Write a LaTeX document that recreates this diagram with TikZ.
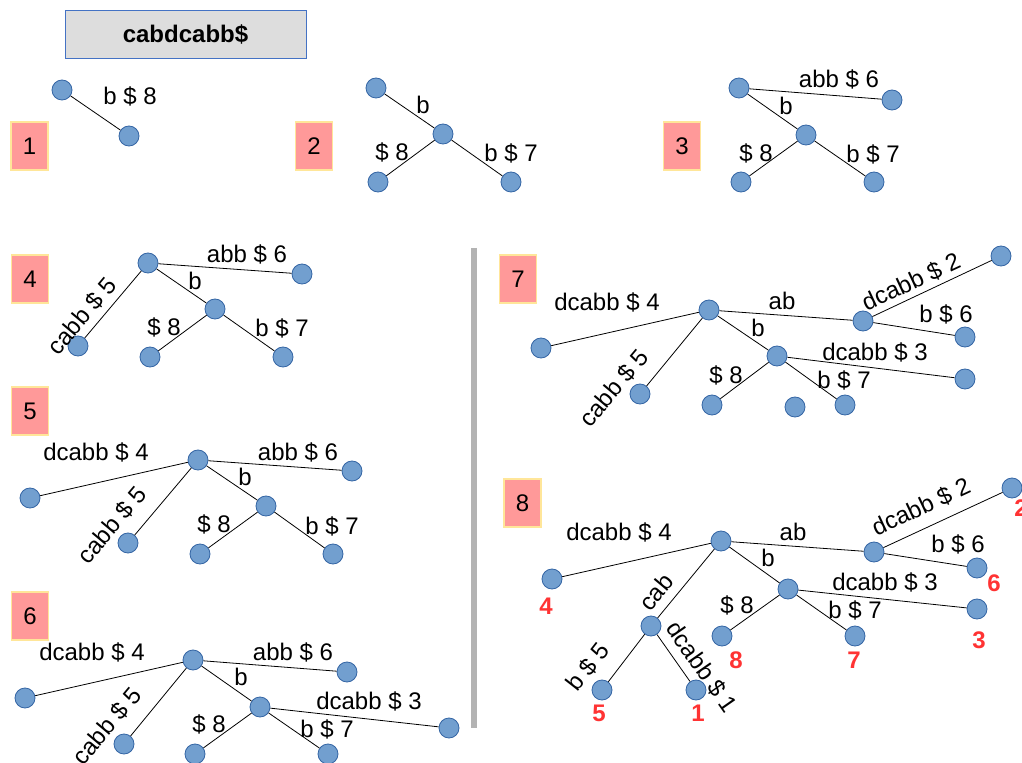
\documentclass[tikz,border=0pt]{standalone}
\usepackage{fontspec}
\setmainfont{Liberation Sans}
\definecolor{nodefill}{HTML}{729FCF}
\definecolor{nodeline}{HTML}{3465A4}
\definecolor{boxfill}{HTML}{FF9999}
\definecolor{boxline}{HTML}{FFE699}
\definecolor{titlefill}{HTML}{DDDDDD}
\definecolor{titleline}{HTML}{4472C4}
\definecolor{divgray}{HTML}{B3B3B3}
\definecolor{numred}{HTML}{FF3333}
\begin{document}
\begin{tikzpicture}[x=0.75pt,y=-0.75pt,
 v/.style={circle,draw=nodeline,fill=nodefill,minimum size=15pt,inner sep=0pt,line width=0.6pt},
 lbl/.style={inner sep=0pt,font=\fontsize{18}{21}\selectfont},
 pbox/.style={draw=boxline,fill=boxfill,minimum width=27.75pt,minimum height=36pt,inner sep=0pt,font=\fontsize{18}{21}\selectfont,line width=0.8pt},
 num/.style={inner sep=0pt,text=numred,font=\fontsize{18}{21}\selectfont\bfseries},
 conn/.style={draw=black,line width=0.6pt}
]
\useasboundingbox (0,0) rectangle (1022,763);

% title
\node[draw=titleline,fill=titlefill,line width=0.6pt,minimum width=180.75pt,minimum height=36pt,inner sep=0pt,font=\fontsize{18}{21}\selectfont\bfseries] (title) at (185.5,34) {cabdcabb\$};

% divider
\coordinate (dtop) at (474,248);
\coordinate (dbot) at (474,728);
\draw[divgray,line width=4pt] (dtop) -- (dbot);

% panel labels
\node[pbox] (b1) at (29.5,146) {1};
\node[pbox] (b2) at (314,146) {2};
\node[pbox] (b3) at (682,146) {3};
\node[pbox] (b4) at (30,279) {4};
\node[pbox] (b5) at (30,411) {5};
\node[pbox] (b6) at (30,616) {6};
\node[pbox] (b7) at (518,279) {7};
\node[pbox] (b8) at (522.5,503) {8};

% ---- panel 1
\node[v] (p1r) at (62,90) {};
\node[v] (p1a) at (129,136) {};
\draw[conn] (p1r) -- (p1a);
\node[lbl] (p1l1) at (130,96) {b \$ 8};

% ---- panel 2
\node[v] (p2r) at (376,88) {};
\node[v] (p2m) at (443,134) {};
\node[v] (p2l) at (378,182) {};
\node[v] (p2rt) at (511,182) {};
\draw[conn] (p2r) -- (p2m);
\draw[conn] (p2m) -- (p2l);
\draw[conn] (p2m) -- (p2rt);
\node[lbl] (p2t1) at (423,105) {b};
\node[lbl] (p2t2) at (392,152) {\$ 8};
\node[lbl] (p2t3) at (511,153) {b \$ 7};

% ---- panel 3
\node[v] (p3r) at (739,88) {};
\node[v] (p3a) at (892,100) {};
\node[v] (p3m) at (806,135) {};
\node[v] (p3l) at (741,182) {};
\node[v] (p3rt) at (874,182) {};
\draw[conn] (p3r) -- (p3a);
\draw[conn] (p3r) -- (p3m);
\draw[conn] (p3m) -- (p3l);
\draw[conn] (p3m) -- (p3rt);
\node[lbl] (p3t1) at (839,79) {abb \$ 6};
\node[lbl] (p3t2) at (786,106) {b};
\node[lbl] (p3t3) at (756,153) {\$ 8};
\node[lbl] (p3t4) at (873,154) {b \$ 7};

% ---- panel 4
\node[v] (p4r) at (148,263) {};
\node[v] (p4a) at (302,274) {};
\node[v] (p4m) at (215,309) {};
\node[v] (p4c) at (78,346) {};
\node[v] (p4l) at (150,357) {};
\node[v] (p4rt) at (283,357) {};
\draw[conn] (p4r) -- (p4a);
\draw[conn] (p4r) -- (p4m);
\draw[conn] (p4r) -- (p4c);
\draw[conn] (p4m) -- (p4l);
\draw[conn] (p4m) -- (p4rt);
\node[lbl] (p4t1) at (247,254) {abb \$ 6};
\node[lbl] (p4t2) at (195,281) {b};
\node[lbl] (p4t3) at (164,327) {\$ 8};
\node[lbl] (p4t4) at (282,328) {b \$ 7};
\node[lbl,rotate=50] (p4t5) at (82,316) {cabb \$ 5};

% ---- panel 5
\node[v] (p5r) at (198,460) {};
\node[v] (p5d) at (30,498) {};
\node[v] (p5c) at (128,543) {};
\node[v] (p5a) at (352,471) {};
\node[v] (p5m) at (266,506) {};
\node[v] (p5l) at (200,554) {};
\node[v] (p5rt) at (333,554) {};
\draw[conn] (p5r) -- (p5d);
\draw[conn] (p5r) -- (p5c);
\draw[conn] (p5r) -- (p5a);
\draw[conn] (p5r) -- (p5m);
\draw[conn] (p5m) -- (p5l);
\draw[conn] (p5m) -- (p5rt);
\node[lbl] (p5t1) at (96,452) {dcabb \$ 4};
\node[lbl] (p5t2) at (298,452) {abb \$ 6};
\node[lbl] (p5t3) at (245,477) {b};
\node[lbl] (p5t4) at (214,524) {\$ 8};
\node[lbl] (p5t5) at (332,526) {b \$ 7};
\node[lbl,rotate=50] (p5t6) at (112,525) {cabb \$ 5};

% ---- panel 6
\node[v] (p6r) at (193,660) {};
\node[v] (p6d) at (25,698) {};
\node[v] (p6c) at (124,744) {};
\node[v] (p6a) at (347,672) {};
\node[v] (p6m) at (260,707) {};
\node[v] (p6l) at (195,754) {};
\node[v] (p6rt) at (328,754) {};
\node[v] (p6e) at (449,728) {};
\draw[conn] (p6r) -- (p6d);
\draw[conn] (p6r) -- (p6c);
\draw[conn] (p6r) -- (p6a);
\draw[conn] (p6r) -- (p6m);
\draw[conn] (p6m) -- (p6l);
\draw[conn] (p6m) -- (p6rt);
\draw[conn] (p6m) -- (p6e);
\node[lbl] (p6t1) at (92,652) {dcabb \$ 4};
\node[lbl] (p6t2) at (293,652) {abb \$ 6};
\node[lbl] (p6t3) at (241,677) {b};
\node[lbl] (p6t4) at (369,701) {dcabb \$ 3};
\node[lbl] (p6t5) at (209,724) {\$ 8};
\node[lbl] (p6t6) at (327,729) {b \$ 7};
\node[lbl,rotate=50] (p6t7) at (107,726) {cabb \$ 5};

% ---- panel 7
\node[v] (p7r) at (709,310) {};
\node[v] (p7d) at (541,348) {};
\node[v] (p7c) at (640,394) {};
\node[v] (p7ab) at (863,321) {};
\node[v] (p7x) at (1001,256) {};
\node[v] (p7b6) at (965,337) {};
\node[v] (p7m) at (777,356) {};
\node[v] (p7e) at (965,379) {};
\node[v] (p7l) at (712,405) {};
\node[v] (p7o) at (795,407) {};
\node[v] (p7rt) at (845,405) {};
\draw[conn] (p7r) -- (p7d);
\draw[conn] (p7r) -- (p7c);
\draw[conn] (p7r) -- (p7ab);
\draw[conn] (p7ab) -- (p7x);
\draw[conn] (p7ab) -- (p7b6);
\draw[conn] (p7r) -- (p7m);
\draw[conn] (p7m) -- (p7e);
\draw[conn] (p7m) -- (p7l);
\draw[conn] (p7m) -- (p7rt);
\node[lbl] (p7t1) at (607,302) {dcabb \$ 4};
\node[lbl] (p7t2) at (782,301) {ab};
\node[lbl,rotate=25] (p7t3) at (911,282) {dcabb \$ 2};
\node[lbl] (p7t4) at (946,314) {b \$ 6};
\node[lbl] (p7t5) at (758,328) {b};
\node[lbl] (p7t6) at (875,352) {dcabb \$ 3};
\node[lbl] (p7t7) at (726,375) {\$ 8};
\node[lbl] (p7t8) at (844,380) {b \$ 7};
\node[lbl,rotate=50] (p7t9) at (614,388) {cabb \$ 5};

% ---- panel 8
\node[v] (p8r) at (721,541) {};
\node[v] (p8d) at (552,579) {};
\node[v] (p8c) at (651,626) {};
\node[v] (p8b5) at (602,690) {};
\node[v] (p8d1) at (696,690) {};
\node[v] (p8ab) at (874,552) {};
\node[v] (p8x) at (1012,488) {};
\node[v] (p8b6) at (977,568) {};
\node[v] (p8m) at (788,589) {};
\node[v] (p8e) at (977,609) {};
\node[v] (p8l) at (722,636) {};
\node[v] (p8rt) at (855,636) {};
\draw[conn] (p8r) -- (p8d);
\draw[conn] (p8r) -- (p8c);
\draw[conn] (p8c) -- (p8b5);
\draw[conn] (p8c) -- (p8d1);
\draw[conn] (p8r) -- (p8ab);
\draw[conn] (p8ab) -- (p8x);
\draw[conn] (p8ab) -- (p8b6);
\draw[conn] (p8r) -- (p8m);
\draw[conn] (p8m) -- (p8e);
\draw[conn] (p8m) -- (p8l);
\draw[conn] (p8m) -- (p8rt);
\node[lbl] (p8t1) at (619,532) {dcabb \$ 4};
\node[lbl] (p8t2) at (793,532) {ab};
\node[lbl,rotate=25] (p8t3) at (921,507) {dcabb \$ 2};
\node[lbl] (p8t4) at (958,544) {b \$ 6};
\node[lbl] (p8t5) at (768,558) {b};
\node[lbl] (p8t6) at (885,582) {dcabb \$ 3};
\node[lbl] (p8t7) at (737,605) {\$ 8};
\node[lbl] (p8t8) at (855,610) {b \$ 7};
\node[lbl,rotate=50] (p8t9) at (656,592) {cab};
\node[lbl,rotate=52] (p8t10) at (588,667) {b \$ 5};
\node[lbl,rotate=-55] (p8t11) at (702,667) {dcabb \$ 1};
\node[num] (n4) at (546,606) {4};
\node[num] (n5) at (599,713) {5};
\node[num] (n1) at (698,713) {1};
\node[num] (n8) at (736,660) {8};
\node[num] (n7) at (854,660) {7};
\node[num] (n3) at (979,640) {3};
\node[num] (n6) at (994,583) {6};
\node[num] (n2) at (1021,508) {2};
\end{tikzpicture}
\end{document}
